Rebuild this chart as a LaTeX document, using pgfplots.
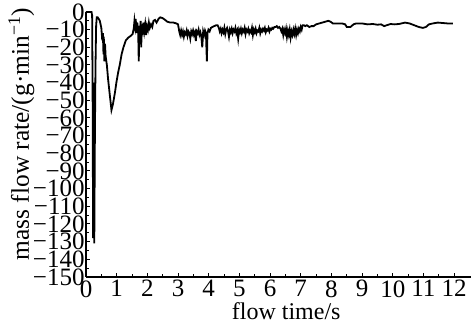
\documentclass[border=0pt]{standalone}
\usepackage{fontspec}
\setmainfont{Liberation Serif}
\usepackage{pgfplots}
\pgfplotsset{compat=1.18}
\begin{document}
\begin{tikzpicture}
\begin{axis}[name=a,
  scale only axis, width=192.5pt, height=132.5pt,
  xmin=0, xmax=12.55, ymin=-150, ymax=0,
  axis lines=left, axis line style={-, line width=0.6pt},
  tick align=inside, major tick length=2.2pt, minor tick length=1.3pt,
  tick style={line width=0.5pt, black},
  xtick={0,1,...,12}, minor x tick num=1,
  ytick={-150,-140,...,0}, minor y tick num=1,
  yticklabels={−150,−140,−130,−120,−110,−100,−90,−80,−70,−60,−50,−40,−30,−20,−10,0},
  xticklabels={0,1,2,3,4,5,6,7,8,9,10,11,12},
  font=\fontsize{12}{12}\selectfont,
  ticklabel style={font=\fontsize{12.5}{12}\selectfont},
  yticklabel style={inner xsep=0.5pt},
  xticklabel style={inner ysep=1.5pt},
  xlabel={flow time/s},
  ylabel={mass flow rate/(g·min\textsuperscript{−1})},
  xlabel style={at={(axis description cs:0.52,0)}, anchor=center, yshift=-17pt},
  ylabel style={at={(axis description cs:-0.168,0.54)}, anchor=center, font=\fontsize{12.7}{12}\selectfont},
  clip=false,
]
\addplot[black, line width=0.9pt] coordinates {
(0,0) (0.18,0) (0.2,-2) (0.22,-60) (0.23,-128) (0.245,-40) (0.26,-100) (0.27,-131) (0.29,-70) (0.31,-30) (0.33,-8) (0.35,-3)
(0.38,-3) (0.42,-4) (0.45,-5) (0.5,-9) (0.53,-16) (0.55,-12) (0.57,-24) (0.58,-14) (0.6,-28) (0.62,-18) (0.64,-25)
(0.68,-30) (0.72,-38) (0.77,-46) (0.83,-55.5) (0.88,-52) (0.94,-46) (0.99,-40) (1.05,-34) (1.1,-30) (1.16,-24)
(1.22,-20) (1.3,-16) (1.38,-14.5) (1.46,-13.5) (1.52,-12.5) (1.56,-9) (1.58,-5) (1.6,-8) (1.62,-4) (1.65,-12)
(1.67,-6) (1.7,-10) (1.72,-28) (1.74,-8) (1.76,-12) (1.78,-5) (1.8,-20) (1.82,-7) (1.85,-10) (1.87,-6) (1.9,-11)
(1.93,-7) (1.96,-13) (1.99,-8) (2.02,-10) (2.05,-6) (2.08,-9) (2.12,-7) (2.16,-8.5) (2.2,-5) (2.25,-4.5) (2.3,-6)
(2.36,-4) (2.42,-3) (2.5,-3.5) (2.58,-4.5) (2.65,-5.5) (2.75,-6) (2.85,-6) (2.95,-6.5) (3.0,-7) (3.04,-11) (3.07,-13)
(3.10,-10.5) (3.13,-13) (3.16,-11) (3.19,-14) (3.22,-11.5) (3.25,-12.5) (3.28,-10.5) (3.31,-13.5) (3.34,-11) (3.37,-12)
(3.40,-15) (3.43,-11) (3.46,-12.5) (3.49,-10.5) (3.52,-13) (3.55,-11.5) (3.58,-16.5) (3.61,-11) (3.64,-12) (3.67,-10)
(3.70,-13) (3.73,-11.5) (3.76,-14) (3.79,-20) (3.82,-11) (3.85,-13) (3.88,-10.5) (3.91,-12) (3.94,-28) (3.96,-12)
(3.99,-10) (4.03,-11) (4.07,-9) (4.12,-8.5) (4.18,-8) (4.24,-7.5) (4.29,-7.5) (4.33,-9) (4.36,-11) (4.39,-9.5)
(4.42,-12) (4.45,-10) (4.48,-11.5) (4.51,-9) (4.54,-12.5) (4.57,-10) (4.60,-9) (4.63,-11) (4.66,-14) (4.69,-10)
(4.72,-11.5) (4.75,-9.5) (4.78,-12) (4.81,-10) (4.84,-11) (4.87,-9) (4.90,-12) (4.93,-10.5) (4.96,-15) (4.99,-10)
(5.02,-11.5) (5.05,-9.5) (5.08,-12) (5.11,-10) (5.14,-11) (5.17,-9) (5.20,-12.5) (5.23,-10) (5.26,-11) (5.29,-9.5)
(5.32,-12) (5.35,-10.5) (5.38,-11.5) (5.41,-9) (5.44,-13) (5.47,-10) (5.50,-11.5) (5.53,-9.5) (5.56,-12) (5.59,-10.5)
(5.62,-11) (5.65,-9) (5.68,-12) (5.71,-10) (5.74,-11) (5.77,-9.5) (5.80,-10.5) (5.83,-9) (5.86,-11.5) (5.89,-10)
(5.92,-10.5) (5.95,-9) (5.98,-11) (6.01,-9.5) (6.04,-10) (6.07,-9) (6.10,-9.5) (6.14,-8.5) (6.18,-8.5) (6.22,-8)
(6.26,-9) (6.30,-8.5) (6.34,-9.5) (6.37,-11) (6.40,-9.5) (6.43,-13) (6.46,-10) (6.49,-12) (6.52,-9.5) (6.55,-14)
(6.58,-10.5) (6.61,-13) (6.64,-10) (6.67,-14.5) (6.70,-11) (6.73,-13) (6.76,-10) (6.79,-12.5) (6.82,-9.5) (6.85,-13)
(6.88,-10) (6.91,-12) (6.94,-9.5) (6.97,-11) (7.00,-8.5) (7.03,-10) (7.06,-7.5) (7.10,-7.5) (7.15,-8) (7.2,-7.5)
(7.28,-8.5) (7.35,-8) (7.42,-8) (7.5,-7) (7.6,-6.5) (7.7,-6) (7.8,-5.5) (7.9,-5) (7.97,-5.5) (8.05,-6.5) (8.2,-6.5)
(8.35,-6.5) (8.45,-7) (8.5,-8.5) (8.62,-8.5) (8.72,-7) (8.8,-6.5) (9.0,-6.5) (9.18,-7) (9.35,-6.8) (9.5,-7.2)
(9.62,-7) (9.72,-8) (9.8,-7.5) (9.93,-6.8) (10.05,-7) (10.2,-6.8) (10.4,-6) (10.55,-6.5) (10.7,-7.5) (10.85,-8.5)
(10.98,-9) (11.08,-8.5) (11.18,-7) (11.3,-6.5) (11.47,-6) (11.6,-6.2) (11.8,-6.5) (11.96,-6.5)
};
\end{axis}
\pgfresetboundingbox
\path[use as bounding box] ([xshift=-43pt,yshift=-24pt]a.south west) rectangle ([yshift=6pt]a.north east);
\end{tikzpicture}
\end{document}
